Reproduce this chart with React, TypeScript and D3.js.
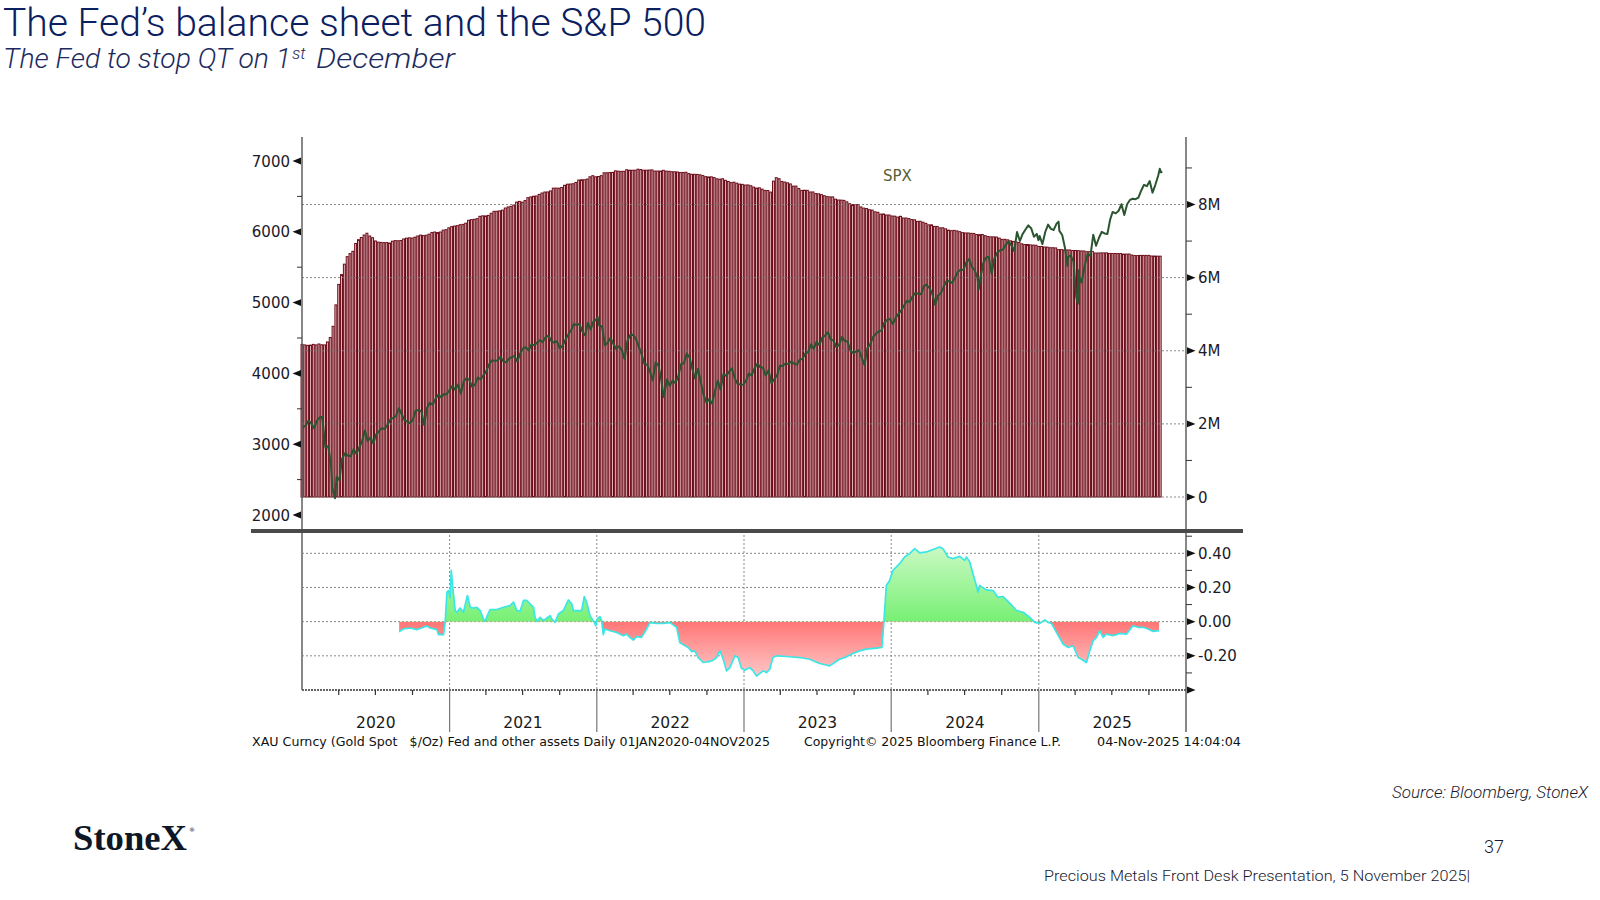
import React from "react";
import * as d3 from "d3";

// ---------- DATA ----------
// Fed total assets ("Fed and other assets"), weekly (Wednesdays) from 2020-01-01, in USD trillions (= "M" on axis)
const fedStart = "2020-01-01";
const fed2020 = [4.174, 4.159, 4.148, 4.153, 4.174, 4.160, 4.185, 4.164, 4.159, 4.241, 4.362, 4.668, 5.254, 5.815, 6.083, 6.368, 6.574, 6.656, 6.720, 6.934, 7.037, 7.097, 7.165, 7.214, 7.138, 7.092, 7.003, 6.971, 6.963, 6.958, 6.958, 6.945, 6.996, 7.013, 7.008, 7.016, 7.058, 7.079, 7.089, 7.082, 7.106, 7.139, 7.163, 7.150, 7.160, 7.189, 7.236, 7.247, 7.232, 7.248, 7.299, 7.311, 7.362];
const fed2021 = [7.395, 7.410, 7.422, 7.447, 7.457, 7.489, 7.569, 7.586, 7.595, 7.613, 7.677, 7.690, 7.688, 7.702, 7.760, 7.813, 7.815, 7.826, 7.845, 7.903, 7.933, 7.950, 7.985, 8.065, 8.085, 8.064, 8.107, 8.186, 8.207, 8.226, 8.232, 8.277, 8.314, 8.341, 8.343, 8.371, 8.447, 8.449, 8.446, 8.464, 8.525, 8.555, 8.560, 8.568, 8.603, 8.668, 8.676, 8.677, 8.696, 8.758, 8.788, 8.757];
const fed2022 = [8.766, 8.789, 8.867, 8.868, 8.873, 8.877, 8.920, 8.912, 8.906, 8.908, 8.951, 8.937, 8.937, 8.938, 8.965, 8.956, 8.937, 8.938, 8.942, 8.946, 8.914, 8.915, 8.914, 8.935, 8.913, 8.908, 8.897, 8.895, 8.889, 8.873, 8.877, 8.882, 8.846, 8.826, 8.825, 8.823, 8.812, 8.791, 8.762, 8.753, 8.757, 8.736, 8.703, 8.693, 8.704, 8.661, 8.631, 8.600, 8.610, 8.583, 8.558, 8.551];
const fed2023 = [8.532, 8.535, 8.514, 8.476, 8.448, 8.456, 8.420, 8.386, 8.383, 8.339, 8.639, 8.733, 8.706, 8.631, 8.614, 8.593, 8.562, 8.503, 8.503, 8.436, 8.385, 8.390, 8.387, 8.342, 8.343, 8.299, 8.292, 8.270, 8.240, 8.215, 8.208, 8.208, 8.146, 8.123, 8.120, 8.113, 8.073, 8.022, 7.999, 7.998, 7.999, 7.933, 7.901, 7.889, 7.857, 7.846, 7.800, 7.787, 7.737, 7.740, 7.713, 7.712];
const fed2024 = [7.686, 7.681, 7.657, 7.677, 7.631, 7.630, 7.615, 7.588, 7.581, 7.539, 7.541, 7.515, 7.485, 7.443, 7.443, 7.402, 7.400, 7.362, 7.363, 7.334, 7.298, 7.284, 7.293, 7.278, 7.257, 7.231, 7.222, 7.221, 7.211, 7.208, 7.178, 7.175, 7.178, 7.148, 7.123, 7.116, 7.115, 7.109, 7.080, 7.047, 7.048, 7.033, 7.006, 6.990, 6.977, 6.959, 6.925, 6.905, 6.905, 6.896, 6.889, 6.886];
const fed2025 = [6.853, 6.852, 6.837, 6.834, 6.818, 6.818, 6.812, 6.766, 6.766, 6.757, 6.757, 6.756, 6.740, 6.742, 6.737, 6.730, 6.729, 6.709, 6.710, 6.713, 6.673, 6.673, 6.677, 6.677, 6.676, 6.662, 6.659, 6.660, 6.658, 6.658, 6.643, 6.643, 6.645, 6.618, 6.603, 6.603, 6.608, 6.608, 6.608, 6.608, 6.591, 6.590, 6.587, 6.587];

// S&P 500 (SPX) closes
const spx: [string, number][] = [
  ["2020-01-03", 3235], ["2020-01-10", 3265], ["2020-01-17", 3330], ["2020-01-24", 3295], ["2020-01-31", 3226], ["2020-02-07", 3328], ["2020-02-14", 3380], ["2020-02-19", 3386], ["2020-02-21", 3338], ["2020-02-28", 2954], ["2020-03-06", 2972], ["2020-03-13", 2711], ["2020-03-16", 2386], ["2020-03-20", 2305], ["2020-03-23", 2237], ["2020-03-27", 2541], ["2020-04-03", 2489], ["2020-04-09", 2790], ["2020-04-17", 2875], ["2020-04-24", 2837], ["2020-05-01", 2831], ["2020-05-08", 2930], ["2020-05-15", 2864], ["2020-05-22", 2955], ["2020-05-29", 3044], ["2020-06-05", 3194], ["2020-06-12", 3041], ["2020-06-19", 3098], ["2020-06-26", 3009], ["2020-07-02", 3130], ["2020-07-10", 3185], ["2020-07-17", 3225], ["2020-07-24", 3216], ["2020-07-31", 3271], ["2020-08-07", 3351], ["2020-08-14", 3373], ["2020-08-21", 3397], ["2020-08-28", 3508], ["2020-09-04", 3427], ["2020-09-11", 3341], ["2020-09-18", 3319], ["2020-09-25", 3298], ["2020-10-02", 3348], ["2020-10-09", 3477], ["2020-10-16", 3484], ["2020-10-23", 3465], ["2020-10-30", 3270], ["2020-11-06", 3510], ["2020-11-13", 3585], ["2020-11-20", 3558], ["2020-11-27", 3638], ["2020-12-04", 3699], ["2020-12-11", 3663], ["2020-12-18", 3709], ["2020-12-24", 3703], ["2020-12-31", 3756],
  ["2021-01-08", 3825], ["2021-01-15", 3768], ["2021-01-22", 3841], ["2021-01-29", 3714], ["2021-02-05", 3887], ["2021-02-12", 3934], ["2021-02-19", 3907], ["2021-02-26", 3811], ["2021-03-05", 3842], ["2021-03-12", 3943], ["2021-03-19", 3913], ["2021-03-26", 3975], ["2021-04-01", 4020], ["2021-04-09", 4129], ["2021-04-16", 4185], ["2021-04-23", 4180], ["2021-04-30", 4181], ["2021-05-07", 4233], ["2021-05-14", 4174], ["2021-05-21", 4156], ["2021-05-28", 4204], ["2021-06-04", 4230], ["2021-06-11", 4247], ["2021-06-18", 4166], ["2021-06-25", 4281], ["2021-07-02", 4352], ["2021-07-09", 4370], ["2021-07-16", 4327], ["2021-07-23", 4412], ["2021-07-30", 4395], ["2021-08-06", 4437], ["2021-08-13", 4468], ["2021-08-20", 4442], ["2021-08-27", 4509], ["2021-09-03", 4535], ["2021-09-10", 4459], ["2021-09-17", 4433], ["2021-09-24", 4455], ["2021-10-01", 4357], ["2021-10-08", 4391], ["2021-10-15", 4471], ["2021-10-22", 4545], ["2021-10-29", 4605], ["2021-11-05", 4698], ["2021-11-12", 4683], ["2021-11-19", 4698], ["2021-11-26", 4595], ["2021-12-03", 4538], ["2021-12-10", 4712], ["2021-12-17", 4620], ["2021-12-23", 4726], ["2021-12-31", 4766],
  ["2022-01-03", 4797], ["2022-01-07", 4677], ["2022-01-14", 4663], ["2022-01-21", 4398], ["2022-01-28", 4432], ["2022-02-04", 4501], ["2022-02-11", 4419], ["2022-02-18", 4349], ["2022-02-25", 4385], ["2022-03-04", 4329], ["2022-03-11", 4204], ["2022-03-18", 4463], ["2022-03-25", 4543], ["2022-04-01", 4546], ["2022-04-08", 4488], ["2022-04-14", 4393], ["2022-04-22", 4272], ["2022-04-29", 4132], ["2022-05-06", 4123], ["2022-05-13", 4024], ["2022-05-20", 3901], ["2022-05-27", 4158], ["2022-06-03", 4109], ["2022-06-10", 3901], ["2022-06-16", 3667], ["2022-06-24", 3912], ["2022-07-01", 3825], ["2022-07-08", 3899], ["2022-07-15", 3863], ["2022-07-22", 3962], ["2022-07-29", 4130], ["2022-08-05", 4145], ["2022-08-12", 4280], ["2022-08-19", 4228], ["2022-08-26", 4058], ["2022-09-02", 3924], ["2022-09-09", 4067], ["2022-09-16", 3873], ["2022-09-23", 3693], ["2022-09-30", 3586], ["2022-10-07", 3640], ["2022-10-12", 3577], ["2022-10-14", 3583], ["2022-10-21", 3752], ["2022-10-28", 3901], ["2022-11-04", 3771], ["2022-11-11", 3993], ["2022-11-18", 3965], ["2022-11-25", 4026], ["2022-12-02", 4072], ["2022-12-09", 3934], ["2022-12-16", 3852], ["2022-12-23", 3845], ["2022-12-30", 3840],
  ["2023-01-06", 3895], ["2023-01-13", 3999], ["2023-01-20", 3973], ["2023-01-27", 4071], ["2023-02-03", 4136], ["2023-02-10", 4090], ["2023-02-17", 4079], ["2023-02-24", 3970], ["2023-03-03", 4046], ["2023-03-10", 3862], ["2023-03-17", 3917], ["2023-03-24", 3971], ["2023-03-31", 4109], ["2023-04-06", 4105], ["2023-04-14", 4138], ["2023-04-21", 4133], ["2023-04-28", 4169], ["2023-05-05", 4136], ["2023-05-12", 4124], ["2023-05-19", 4192], ["2023-05-26", 4205], ["2023-06-02", 4282], ["2023-06-09", 4299], ["2023-06-16", 4410], ["2023-06-23", 4348], ["2023-06-30", 4450], ["2023-07-07", 4399], ["2023-07-14", 4505], ["2023-07-21", 4536], ["2023-07-28", 4582], ["2023-08-04", 4478], ["2023-08-11", 4464], ["2023-08-18", 4370], ["2023-08-25", 4406], ["2023-09-01", 4516], ["2023-09-08", 4457], ["2023-09-15", 4450], ["2023-09-22", 4320], ["2023-09-29", 4288], ["2023-10-06", 4308], ["2023-10-13", 4327], ["2023-10-20", 4224], ["2023-10-27", 4117], ["2023-11-03", 4358], ["2023-11-10", 4415], ["2023-11-17", 4514], ["2023-11-24", 4559], ["2023-12-01", 4595], ["2023-12-08", 4604], ["2023-12-15", 4719], ["2023-12-22", 4755], ["2023-12-29", 4770],
  ["2024-01-05", 4697], ["2024-01-12", 4784], ["2024-01-19", 4840], ["2024-01-26", 4891], ["2024-02-02", 4959], ["2024-02-09", 5027], ["2024-02-16", 5006], ["2024-02-23", 5089], ["2024-03-01", 5137], ["2024-03-08", 5124], ["2024-03-15", 5117], ["2024-03-22", 5234], ["2024-03-28", 5254], ["2024-04-05", 5204], ["2024-04-12", 5123], ["2024-04-19", 4967], ["2024-04-26", 5100], ["2024-05-03", 5128], ["2024-05-10", 5223], ["2024-05-17", 5303], ["2024-05-24", 5305], ["2024-05-31", 5278], ["2024-06-07", 5347], ["2024-06-14", 5431], ["2024-06-21", 5465], ["2024-06-28", 5460], ["2024-07-05", 5567], ["2024-07-12", 5615], ["2024-07-19", 5505], ["2024-07-26", 5459], ["2024-08-02", 5347], ["2024-08-05", 5186], ["2024-08-09", 5344], ["2024-08-16", 5554], ["2024-08-23", 5634], ["2024-08-30", 5648], ["2024-09-06", 5408], ["2024-09-13", 5626], ["2024-09-20", 5703], ["2024-09-27", 5738], ["2024-10-04", 5751], ["2024-10-11", 5815], ["2024-10-18", 5864], ["2024-10-25", 5808], ["2024-11-01", 5729], ["2024-11-08", 5996], ["2024-11-15", 5870], ["2024-11-22", 5969], ["2024-11-29", 6032], ["2024-12-06", 6090], ["2024-12-13", 6051], ["2024-12-20", 5931], ["2024-12-27", 5971], ["2024-12-31", 5882],
  ["2025-01-03", 5942], ["2025-01-10", 5827], ["2025-01-17", 5997], ["2025-01-24", 6101], ["2025-01-31", 6041], ["2025-02-07", 6026], ["2025-02-14", 6115], ["2025-02-19", 6144], ["2025-02-21", 6013], ["2025-02-28", 5955], ["2025-03-07", 5770], ["2025-03-13", 5522], ["2025-03-14", 5639], ["2025-03-21", 5668], ["2025-03-28", 5581], ["2025-04-04", 5074], ["2025-04-08", 4983], ["2025-04-09", 5457], ["2025-04-11", 5363], ["2025-04-17", 5283], ["2025-04-25", 5525], ["2025-05-02", 5687], ["2025-05-09", 5660], ["2025-05-16", 5958], ["2025-05-23", 5803], ["2025-05-30", 5912], ["2025-06-06", 6000], ["2025-06-13", 5977], ["2025-06-20", 5968], ["2025-06-27", 6173], ["2025-07-03", 6279], ["2025-07-11", 6260], ["2025-07-18", 6297], ["2025-07-25", 6389], ["2025-08-01", 6238], ["2025-08-08", 6389], ["2025-08-15", 6450], ["2025-08-22", 6467], ["2025-08-29", 6460], ["2025-09-05", 6482], ["2025-09-12", 6584], ["2025-09-19", 6664], ["2025-09-26", 6644], ["2025-10-03", 6716], ["2025-10-10", 6553], ["2025-10-17", 6664], ["2025-10-24", 6792], ["2025-10-28", 6891], ["2025-10-31", 6840], ["2025-11-03", 6852],
];

// Lower panel: correlation series [decimal year, value]
const corr: [number, number][] = [
  [2020.658, -0.059], [2020.687, -0.043], [2020.733, -0.037], [2020.778, -0.047], [2020.823, -0.033], [2020.846, -0.025], [2020.868, -0.037], [2020.914, -0.047], [2020.925, -0.076], [2020.959, -0.076], [2020.970, -0.004], [2020.982, 0.173], [2020.993, 0.182], [2021.004, 0.139], [2021.011, 0.30], [2021.022, 0.198], [2021.038, 0.065], [2021.049, 0.055], [2021.072, 0.080], [2021.094, 0.055], [2021.121, 0.153], [2021.140, 0.084], [2021.162, 0.080], [2021.185, 0.084], [2021.208, 0.065], [2021.230, 0.016], [2021.241, 0.002], [2021.253, 0.029], [2021.275, 0.071], [2021.321, 0.071], [2021.366, 0.084], [2021.411, 0.094], [2021.434, 0.114], [2021.457, 0.065], [2021.479, 0.061], [2021.502, 0.124], [2021.525, 0.124], [2021.547, 0.104], [2021.570, 0.084], [2021.581, 0.025], [2021.593, 0.002], [2021.615, 0.025], [2021.638, 0.006], [2021.661, 0.022], [2021.683, 0.035], [2021.694, 0.016], [2021.717, -0.004], [2021.739, 0.045], [2021.773, 0.065], [2021.807, 0.127], [2021.830, 0.104], [2021.841, 0.065], [2021.863, 0.065], [2021.897, 0.065], [2021.915, 0.147], [2021.931, 0.114], [2021.954, 0.035], [2021.976, 0.006], [2021.994, -0.024],
  [2022.003, 0.016], [2022.021, 0.029], [2022.033, 0.006], [2022.044, -0.076], [2022.055, -0.043], [2022.089, -0.053], [2022.135, -0.063], [2022.180, -0.082], [2022.202, -0.073], [2022.225, -0.092], [2022.248, -0.108], [2022.270, -0.088], [2022.304, -0.092], [2022.338, -0.043], [2022.361, -0.006], [2022.406, -0.010], [2022.451, -0.010], [2022.497, -0.006], [2022.542, -0.033], [2022.564, -0.122], [2022.587, -0.135], [2022.621, -0.151], [2022.644, -0.175], [2022.666, -0.171], [2022.689, -0.210], [2022.723, -0.239], [2022.768, -0.233], [2022.791, -0.225], [2022.813, -0.210], [2022.836, -0.171], [2022.859, -0.220], [2022.881, -0.288], [2022.904, -0.269], [2022.938, -0.200], [2022.960, -0.210], [2022.983, -0.273],
  [2023.005, -0.284], [2023.039, -0.269], [2023.062, -0.288], [2023.085, -0.318], [2023.107, -0.304], [2023.130, -0.288], [2023.153, -0.298], [2023.175, -0.278], [2023.197, -0.210], [2023.220, -0.200], [2023.288, -0.204], [2023.379, -0.210], [2023.446, -0.220], [2023.514, -0.245], [2023.582, -0.259], [2023.616, -0.239], [2023.650, -0.220], [2023.695, -0.206], [2023.740, -0.186], [2023.786, -0.171], [2023.831, -0.161], [2023.899, -0.155], [2023.937, -0.151], [2023.951, 0.006], [2023.967, 0.212], [2023.989, 0.241],
  [2024.012, 0.300], [2024.057, 0.339], [2024.091, 0.378], [2024.125, 0.398], [2024.159, 0.427], [2024.193, 0.402], [2024.238, 0.408], [2024.283, 0.422], [2024.328, 0.437], [2024.351, 0.427], [2024.385, 0.378], [2024.419, 0.369], [2024.464, 0.382], [2024.498, 0.359], [2024.509, 0.378], [2024.532, 0.349], [2024.554, 0.280], [2024.577, 0.212], [2024.588, 0.173], [2024.600, 0.212], [2024.622, 0.198], [2024.645, 0.186], [2024.690, 0.182], [2024.724, 0.143], [2024.758, 0.147], [2024.803, 0.108], [2024.849, 0.065], [2024.894, 0.055], [2024.939, 0.025], [2024.973, -0.004],
  [2025.007, -0.010], [2025.041, 0.010], [2025.063, -0.004], [2025.086, -0.010], [2025.120, -0.063], [2025.165, -0.131], [2025.199, -0.151], [2025.233, -0.141], [2025.267, -0.210], [2025.290, -0.220], [2025.324, -0.239], [2025.346, -0.171], [2025.369, -0.112], [2025.392, -0.092], [2025.414, -0.053], [2025.437, -0.092], [2025.459, -0.073], [2025.505, -0.082], [2025.550, -0.069], [2025.595, -0.073], [2025.640, -0.024], [2025.674, -0.033], [2025.708, -0.033], [2025.742, -0.043], [2025.776, -0.057], [2025.817, -0.053],
];

const spxTicks = [2000, 3000, 4000, 5000, 6000, 7000];
const spxMinor = [2500, 3500, 4500, 5500, 6500];
const fedTicks = [0, 2, 4, 6, 8];
const fedMinor = [1, 3, 5, 7, 9];
const corrTicks = [0.4, 0.2, 0, -0.2, -0.4];
const corrLabels = ["0.40", "0.20", "0.00", "-0.20", ""];
const corrMinor = [0.5, 0.3, 0.1, -0.1, -0.3];
const years = [2020, 2021, 2022, 2023, 2024, 2025];

// ---------- HELPERS ----------
const parse = (s: string) => new Date(s + "T00:00:00Z");
const decYear = (y: number) => {
  const yr = Math.floor(y);
  const a = Date.UTC(yr, 0, 1), b = Date.UTC(yr + 1, 0, 1);
  return new Date(a + (y - yr) * (b - a));
};

export default function App() {
  const L = 302, R = 1186;
  const topY = 137, divY = 531, botY = 690;

  const x = d3.scaleUtc().domain([new Date(Date.UTC(2020, 0, 1)), new Date(Date.UTC(2026, 0, 1))]).range([L, R]);
  const ySpx = d3.scaleLinear().domain([2000, 7000]).range([515, 161]);
  const yFed = d3.scaleLinear().domain([0, 8]).range([497, 204.5]);
  const yCorr = d3.scaleLinear().domain([-0.4, 0.4]).range([botY, 553.3]);

  const fedVals = [...fed2020, ...fed2021, ...fed2022, ...fed2023, ...fed2024, ...fed2025];
  const f0 = parse(fedStart).getTime();
  const fed = fedVals.map((v, i) => ({ d: new Date(f0 + i * 7 * 86400000), v }));
  const step = x(new Date(f0 + 7 * 86400000)) - x(new Date(f0));
  const bw = step * 0.68;

  const spxLine = d3.line<[string, number]>().x(d => x(parse(d[0]))).y(d => ySpx(d[1]))(spx) || "";

  const corrPts = corr.map(([t, v]) => ({ d: decYear(t), v }));
  const zero = yCorr(0);
  const area = d3.area<{ d: Date; v: number }>().x(p => x(p.d)).y0(zero).y1(p => yCorr(p.v))(corrPts) || "";
  const cline = d3.line<{ d: Date; v: number }>().x(p => x(p.d)).y(p => yCorr(p.v))(corrPts) || "";

  const axisFont = "DejaVu Sans, Verdana, sans-serif";
  const tri = (tx: number, ty: number, dir: number) =>
    `M${tx},${ty} L${tx + dir * 8.5},${ty - 3.4} L${tx + dir * 8.5},${ty + 3.4} Z`;

  const quarters: Date[] = [];
  years.forEach(y => [3, 6, 9].forEach(m => quarters.push(new Date(Date.UTC(y, m, 1)))));

  return (
    <svg width={1600} height={900} style={{ position: "absolute", left: 0, top: 0, background: "#fff" }}>
      <defs>
        <linearGradient id="gpos" gradientUnits="userSpaceOnUse" x1="0" y1={yCorr(0.45)} x2="0" y2={zero}>
          <stop offset="0" stopColor="#cdf9c6" />
          <stop offset="1" stopColor="#77f074" />
        </linearGradient>
        <linearGradient id="gneg" gradientUnits="userSpaceOnUse" x1="0" y1={zero} x2="0" y2={yCorr(-0.33)}>
          <stop offset="0" stopColor="#ff7676" />
          <stop offset="1" stopColor="#ffcaca" />
        </linearGradient>
        <clipPath id="cpos"><rect x={L} y={divY} width={R - L} height={zero - divY} /></clipPath>
        <clipPath id="cneg"><rect x={L} y={zero} width={R - L} height={botY - zero} /></clipPath>
      </defs>

      {/* Titles */}
      <text x={3} y={36} fontFamily="Roboto, sans-serif" fontWeight={300} fontSize={38} fill="#0b2060" textLength={703} lengthAdjust="spacingAndGlyphs">The Fed’s balance sheet and the S&amp;P 500</text>
      <text x={3} y={68} fontFamily="Roboto, sans-serif" fontWeight={300} fontStyle="italic" fontSize={28} fill="#1c2b5e" textLength={288} lengthAdjust="spacingAndGlyphs">The Fed to stop QT on 1</text>
      <text x={292} y={59} fontFamily="Roboto, sans-serif" fontWeight={300} fontStyle="italic" fontSize={17} fill="#1c2b5e">st</text>
      <text x={316} y={68} fontFamily="Roboto, sans-serif" fontWeight={300} fontStyle="italic" fontSize={28} fill="#1c2b5e" textLength={139} lengthAdjust="spacingAndGlyphs">December</text>

      {/* Fed bars */}
      {fed.map((p, i) => (
        <rect key={i} x={x(p.d) - bw / 2} y={yFed(p.v)} width={bw} height={yFed(0) - yFed(p.v)}
          fill="#e9bfc5" stroke="#690915" strokeWidth={1} />
      ))}

      {/* top grid */}
      {fedTicks.map(t => (
        <line key={t} x1={L} x2={R} y1={yFed(t)} y2={yFed(t)} stroke="#777" strokeWidth={1} strokeDasharray="2,2" opacity={0.85} />
      ))}

      {/* SPX */}
      <path d={spxLine} fill="none" stroke="#2b5530" strokeWidth={2} strokeLinejoin="round" />
      <text x={883} y={181} fontFamily={axisFont} fontSize={15} fill="#5a6030">SPX</text>

      {/* axes lines */}
      <line x1={L} x2={L} y1={topY} y2={botY} stroke="#555" strokeWidth={1.4} />
      <line x1={R} x2={R} y1={topY} y2={732} stroke="#555" strokeWidth={1.4} />

      {/* left ticks */}
      {spxTicks.map(t => (
        <g key={t}>
          <path d={tri(L - 9.5, ySpx(t), 1)} fill="#111" />
          <text x={290} y={ySpx(t) + 5.5} textAnchor="end" fontFamily={axisFont} fontSize={15} fill="#1a1a2a">{t}</text>
        </g>
      ))}
      {spxMinor.map(t => <line key={t} x1={L - 5} x2={L} y1={ySpx(t)} y2={ySpx(t)} stroke="#333" strokeWidth={1} />)}

      {/* right ticks top */}
      {fedTicks.map(t => (
        <g key={t}>
          <path d={tri(R + 9.5, yFed(t), -1)} fill="#111" />
          <text x={1198} y={yFed(t) + 5.5} fontFamily={axisFont} fontSize={15} fill="#1a1a2a">{t === 0 ? "0" : `${t}M`}</text>
        </g>
      ))}
      {fedMinor.map(t => <line key={t} x1={R} x2={R + 6} y1={yFed(t)} y2={yFed(t)} stroke="#333" strokeWidth={1} />)}

      {/* lower panel grid */}
      {corrTicks.slice(0, 4).map(t => (
        <line key={t} x1={L} x2={R} y1={yCorr(t)} y2={yCorr(t)} stroke="#888" strokeWidth={1} strokeDasharray="2,2" />
      ))}
      {years.slice(1).map(y => (
        <line key={y} x1={x(new Date(Date.UTC(y, 0, 1)))} x2={x(new Date(Date.UTC(y, 0, 1)))} y1={divY} y2={botY} stroke="#888" strokeWidth={1} strokeDasharray="2,2" />
      ))}

      {/* correlation area */}
      <path d={area} fill="url(#gpos)" clipPath="url(#cpos)" />
      <path d={area} fill="url(#gneg)" clipPath="url(#cneg)" />
      <path d={cline} fill="none" stroke="#3be6e6" strokeWidth={1.7} strokeLinejoin="round" />

      {/* bottom axis */}
      <line x1={L} x2={R} y1={botY} y2={botY} stroke="#666" strokeWidth={2} strokeDasharray="2,1" />
      {quarters.map((q, i) => (
        <line key={i} x1={x(q)} x2={x(q)} y1={botY} y2={botY + 5} stroke="#333" strokeWidth={1.2} />
      ))}
      {years.slice(1).map(y => (
        <line key={y} x1={x(new Date(Date.UTC(y, 0, 1)))} x2={x(new Date(Date.UTC(y, 0, 1)))} y1={botY} y2={732} stroke="#777" strokeWidth={1.2} />
      ))}
      {years.map(y => (
        <text key={y} x={x(new Date(Date.UTC(y, 6, 2)))} y={728} textAnchor="middle" fontFamily={axisFont} fontSize={15.5} fill="#1a1a1a">{y}</text>
      ))}

      {/* right ticks lower */}
      {corrTicks.map((t, i) => (
        <g key={t}>
          <path d={tri(R + 9.5, yCorr(t), -1)} fill="#111" />
          <text x={1198} y={yCorr(t) + 5.5} fontFamily={axisFont} fontSize={15} fill="#1a1a2a">{corrLabels[i]}</text>
        </g>
      ))}
      {corrMinor.map(t => <line key={t} x1={R} x2={R + 6} y1={yCorr(t)} y2={yCorr(t)} stroke="#333" strokeWidth={1} />)}

      {/* divider */}
      <line x1={251} x2={1243} y1={divY} y2={divY} stroke="#4a4a4a" strokeWidth={4} />

      {/* Bloomberg footer */}
      <text x={252} y={746} fontFamily={axisFont} fontSize={13} fill="#111" textLength={518} lengthAdjust="spacingAndGlyphs" style={{ whiteSpace: "pre" }}>XAU Curncy (Gold Spot   $/Oz) Fed and other assets Daily 01JAN2020-04NOV2025</text>
      <text x={804} y={746} fontFamily={axisFont} fontSize={13} fill="#111" textLength={257} lengthAdjust="spacingAndGlyphs">Copyright© 2025 Bloomberg Finance L.P.</text>
      <text x={1097} y={746} fontFamily={axisFont} fontSize={13} fill="#111" textLength={144} lengthAdjust="spacingAndGlyphs">04-Nov-2025 14:04:04</text>

      {/* page footer */}
      <text x={1588} y={798} textAnchor="end" fontFamily="Roboto, sans-serif" fontWeight={300} fontStyle="italic" fontSize={16} fill="#1a1a2e" textLength={196} lengthAdjust="spacingAndGlyphs">Source: Bloomberg, StoneX</text>
      <text x={73} y={850} fontFamily="Liberation Serif, DejaVu Serif, serif" fontWeight={700} fontSize={35} fill="#0e1726" textLength={114} lengthAdjust="spacingAndGlyphs">StoneX</text>
      <text x={189} y={832} fontFamily="DejaVu Sans, sans-serif" fontSize={6} fill="#0e1726">®</text>
      <text x={1484} y={853} fontFamily="Roboto, sans-serif" fontWeight={300} fontSize={18} fill="#1a1a2e">37</text>
      <text x={1044} y={881} fontFamily="Roboto, sans-serif" fontWeight={300} fontSize={15.5} fill="#1a1a2e" textLength={426} lengthAdjust="spacingAndGlyphs">Precious Metals Front Desk Presentation, 5 November 2025|</text>
    </svg>
  );
}
